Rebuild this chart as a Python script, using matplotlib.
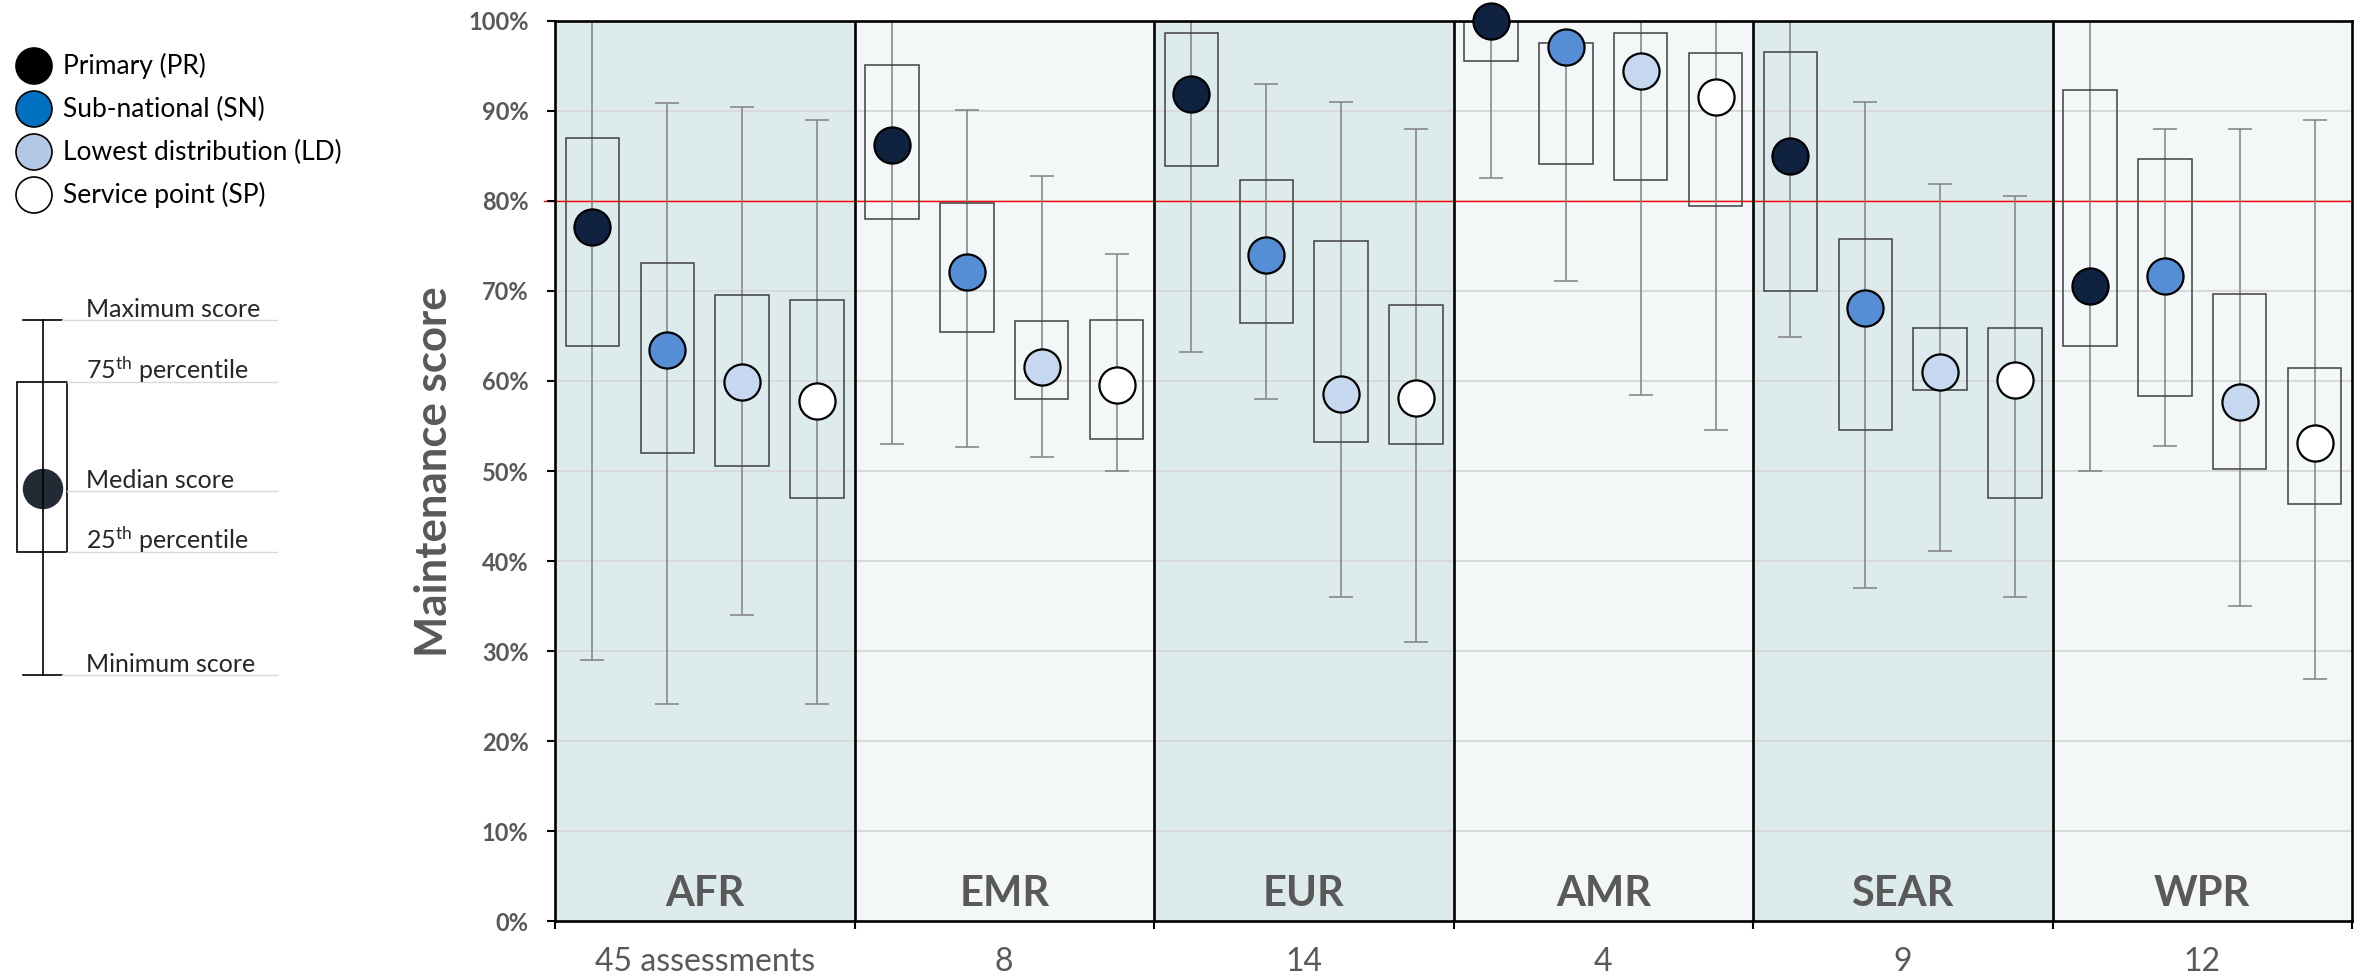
import matplotlib
matplotlib.use("Agg")
import matplotlib.pyplot as plt
from matplotlib.patches import Ellipse, Rectangle
import numpy as np

plt.rcParams['font.family'] = ['Lato', 'DejaVu Sans']
plt.rcParams['mathtext.fontset'] = 'custom'
plt.rcParams['mathtext.rm'] = 'Lato'
plt.rcParams['mathtext.it'] = 'Lato:italic'
plt.rcParams['mathtext.bf'] = 'Lato:bold'

# ---------------- data ----------------
regions = ['AFR', 'EMR', 'EUR', 'AMR', 'SEAR', 'WPR']
counts = ['45 assessments', '8', '14', '4', '9', '12']
levels = ['Primary (PR)', 'Sub-national (SN)', 'Lowest distribution (LD)', 'Service point (SP)']

pr_min = [29.0, 53.0, 63.2, 82.6, 64.9, 50.0]
pr_q1 = [63.9, 78.0, 83.9, 95.6, 70.0, 63.9]
pr_med = [77.1, 86.2, 91.9, 100.0, 85.0, 70.6]
pr_q3 = [87.0, 95.1, 98.7, 100.0, 96.5, 92.3]
pr_max = [100.0, 100.0, 100.0, 100.0, 100.0, 100.0]

sn_min = [24.1, 52.7, 58.0, 71.1, 37.0, 52.8]
sn_q1 = [52.0, 65.4, 66.4, 84.1, 54.5, 58.3]
sn_med = [63.4, 72.1, 74.0, 97.1, 68.1, 71.7]
sn_q3 = [73.1, 79.8, 82.3, 97.5, 75.8, 84.7]
sn_max = [90.9, 90.1, 93.0, 97.6, 91.0, 88.0]

ld_min = [34.0, 51.5, 36.0, 58.4, 41.1, 35.0]
ld_q1 = [50.5, 58.0, 53.2, 82.3, 59.0, 50.2]
ld_med = [59.9, 61.6, 58.6, 94.4, 61.0, 57.7]
ld_q3 = [69.5, 66.7, 75.5, 98.7, 65.9, 69.7]
ld_max = [90.4, 82.8, 91.0, 100.0, 81.9, 88.0]

sp_min = [24.1, 50.0, 31.0, 54.6, 36.0, 26.9]
sp_q1 = [47.0, 53.6, 53.0, 79.4, 47.0, 46.3]
sp_med = [57.8, 59.5, 58.1, 91.5, 60.1, 53.1]
sp_q3 = [69.0, 66.8, 68.4, 96.4, 65.9, 61.4]
sp_max = [89.0, 74.1, 88.0, 100.0, 80.6, 89.0]

target = 80
yticks = [0, 10, 20, 30, 40, 50, 60, 70, 80, 90, 100]

series = [
    (pr_min, pr_q1, pr_med, pr_q3, pr_max),
    (sn_min, sn_q1, sn_med, sn_q3, sn_max),
    (ld_min, ld_q1, ld_med, ld_q3, ld_max),
    (sp_min, sp_q1, sp_med, sp_q3, sp_max),
]

# ---------------- style ----------------
marker_colors = ['#0F2240', '#558ED5', '#C5D8F0', '#FFFFFF']
legend_colors = ['#000000', '#0070C0', '#B4C7E7', '#FFFFFF']
band_colors = ['#DDEBEC', '#F3F7F8']
gray_text = '#595959'

W, H = 2371, 980
fig = plt.figure(figsize=(W / 100, H / 100), dpi=100)
ax = fig.add_axes([555 / W, 1 - 921 / H, (2352 - 555) / W, (921 - 21) / H])

n_groups = len(regions)
n_lev = len(levels)
ax.set_xlim(0, n_groups * n_lev)
ax.set_ylim(0, 100)

for g in range(n_groups):
    ax.axvspan(g * n_lev, (g + 1) * n_lev, color=band_colors[g % 2], zorder=0, lw=0)
    if g > 0:
        ax.axvline(g * n_lev, color='black', lw=1.9, zorder=3)
    ax.text(g * n_lev + n_lev / 2, 1.7, regions[g], ha='center', va='baseline',
            fontsize=30, fontweight='bold', color=gray_text, zorder=4)

for yv in yticks[1:-1]:
    ax.axhline(yv, color='#D9D9D9', lw=1.4, zorder=0.5)

ax.axhline(target, color='#FF0000', lw=1.0, zorder=1.5, xmin=-0.006, clip_on=False)

for k, (mn, q1, md, q3, mx) in enumerate(series):
    xs = np.arange(n_groups) * n_lev + k + 0.5
    mn, q1, md, q3, mx = map(np.asarray, (mn, q1, md, q3, mx))
    ax.errorbar(xs, md, yerr=[md - mn, mx - md], fmt='none', ecolor='#808080',
                elinewidth=1.1, capsize=8.5, capthick=1.1, zorder=1.8)
    ax.bar(xs, q3 - q1, bottom=q1, width=0.715, fill=False, edgecolor='#404040',
           linewidth=1.1, zorder=2)
    ax.plot(xs, md, 'o', ms=26, mfc=marker_colors[k], mec='black', mew=1.6,
            zorder=5, clip_on=False, linestyle='none')

# axes styling
for s in ax.spines.values():
    s.set_linewidth(1.9)
    s.set_color('black')
    s.set_zorder(4)
ax.set_yticks(yticks)
ax.set_yticklabels([f'{v}%' for v in yticks], fontsize=17, fontweight='bold', color=gray_text)
ax.tick_params(axis='y', length=6, width=1.5, pad=13)

ax.set_xticks(np.arange(n_groups + 1) * n_lev)
ax.set_xticklabels([])
ax.tick_params(axis='x', which='major', length=6, width=1.5, direction='out')
ax.set_xticks(np.arange(n_groups) * n_lev + n_lev / 2, minor=True)
ax.set_xticklabels(counts, minor=True, fontsize=23, color=gray_text)
ax.tick_params(axis='x', which='minor', length=0, pad=19)

fig.text(434 / W, 1 - 472 / H, 'Maintenance score', rotation=90, ha='center', va='center',
         fontsize=31.5, fontweight='bold', color=gray_text)

# ---------------- legend & key (overlay in pixel coords) ----------------
ov = fig.add_axes([0, 0, 1, 1], zorder=-1)
ov.set_xlim(0, W)
ov.set_ylim(H, 0)
ov.axis('off')

leg_y = [66, 109, 152, 195]
for i, lab in enumerate(levels):
    ov.add_patch(Ellipse((34, leg_y[i]), 36, 36, facecolor=legend_colors[i],
                         edgecolor='black', lw=1.2))
    ov.text(63, leg_y[i], lab, ha='left', va='center', fontsize=19, color='black')

# key diagram
key_col = '#262626'
y_max, y_q3, y_med, y_q1, y_min = 320, 382, 491, 552, 675
ov.plot([43, 43], [y_max, y_min], color='black', lw=1.2)
ov.plot([23, 62], [y_max, y_max], color='black', lw=1.2)
ov.plot([23, 62], [y_min, y_min], color='black', lw=1.2)
ov.add_patch(Rectangle((17, y_q3), 50, y_q1 - y_q3, fill=False, edgecolor='black', lw=1.2))
ov.add_patch(Ellipse((43, 489), 39, 39, facecolor='#222A35', edgecolor='#222A35', lw=1))
key_lines = [(62, y_max), (67, y_q3), (67, y_med), (67, y_q1), (62, y_min)]
for x0, yy in key_lines:
    ov.plot([x0, 277], [yy, yy], color='#D9D9D9', lw=1.0)
key_labels = ['Maximum score', '75$^{\\mathrm{th}}$ percentile', 'Median score',
              '25$^{\\mathrm{th}}$ percentile', 'Minimum score']
for (x0, yy), lab in zip(key_lines, key_labels):
    ov.text(86, yy - 3, lab, ha='left', va='baseline', fontsize=18, color=key_col)

fig.savefig('out.png', dpi=100)
